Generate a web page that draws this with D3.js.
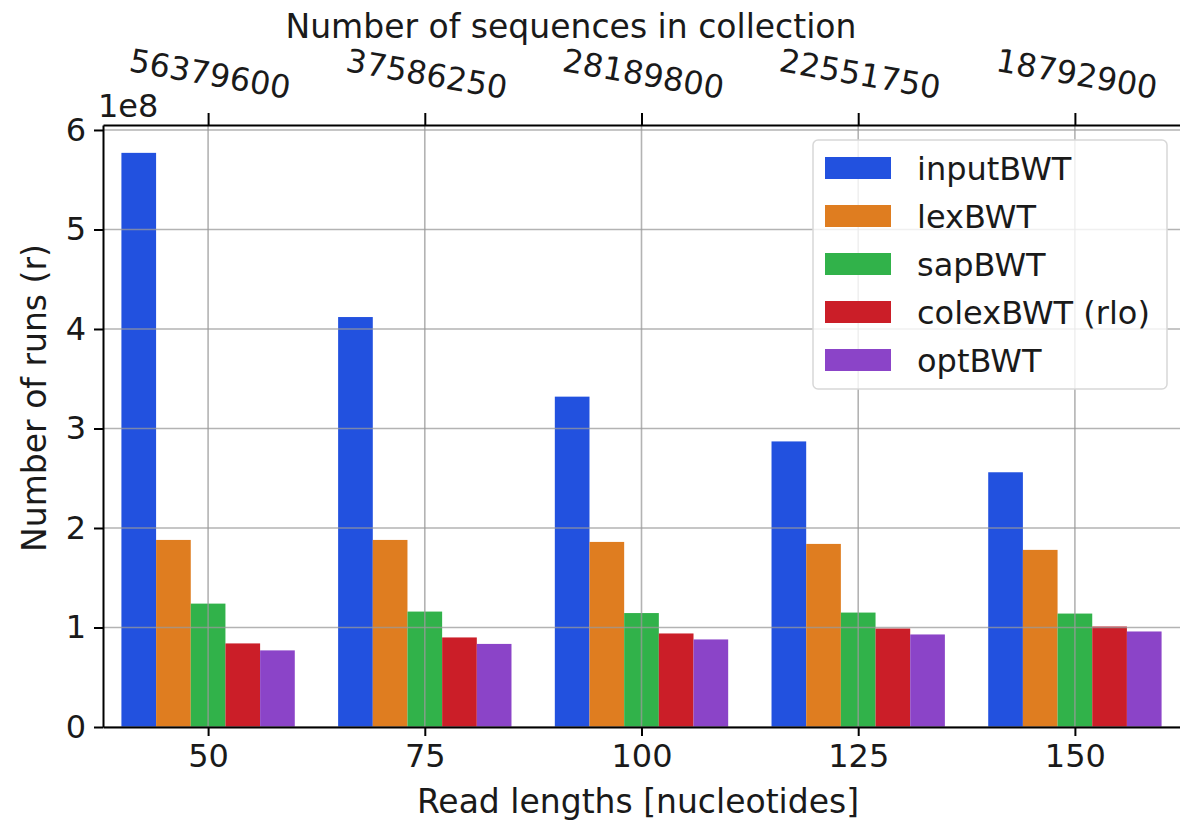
<!DOCTYPE html>
<html>
<head>
<meta charset="utf-8">
<script src="https://cdn.jsdelivr.net/npm/d3@7"></script>
<style>
  html, body { margin: 0; background: #fff; overflow: hidden; }
  svg { display: block; font-family: "DejaVu Sans", sans-serif; }
</style>
</head>
<body>
<script>
// données
const readLengths = [50, 75, 100, 125, 150]
const numSequences = ['56379600', '37586250', '28189800', '22551750', '18792900']
const seriesNames = ['inputBWT', 'lexBWT', 'sapBWT', 'colexBWT (rlo)', 'optBWT']
const inputBWT = [5.77e8, 4.12e8, 3.32e8, 2.87e8, 2.56e8]
const lexBWT = [1.88e8, 1.88e8, 1.86e8, 1.84e8, 1.78e8]
const sapBWT = [1.24e8, 1.16e8, 1.145e8, 1.15e8, 1.14e8]
const colexBWT = [0.84e8, 0.90e8, 0.94e8, 0.99e8, 1.01e8]
const optBWT = [0.77e8, 0.835e8, 0.88e8, 0.93e8, 0.96e8]
const yTicks = [0, 1e8, 2e8, 3e8, 4e8, 5e8, 6e8]
const colors = ['#2251df', '#df7d20', '#31b24a', '#cb1e28', '#8b44c8']

const allSeries = [inputBWT, lexBWT, sapBWT, colexBWT, optBWT]

const width = 1180
const height = 825
const plot = { left: 103, right: 1180, top: 125, bottom: 727 }
const barW = 0.16

const svg = d3.select('body').append('svg')
    .attr('width', width)
    .attr('height', height)

// échelles
const x = d3.scaleLinear()
    .domain([-0.485, readLengths.length - 1 + 0.485])
    .range([plot.left, plot.right])
const y = d3.scaleLinear()
    .domain([0, 6.05e8])
    .range([plot.bottom, plot.top])

// barres
allSeries.forEach((vals, s) => {
    svg.append('g')
        .selectAll('rect')
        .data(vals)
        .enter()
        .append('rect')
        .attr('x', (d, i) => x(i + (s - 2.5) * barW))
        .attr('y', d => y(d))
        .attr('width', x(barW) - x(0))
        .attr('height', d => y(0) - y(d))
        .attr('fill', colors[s])
})

// grille (au-dessus des barres comme dans matplotlib)
const grid = svg.append('g').attr('stroke', '#999').attr('stroke-opacity', 0.75).attr('stroke-width', 1.6)
grid.selectAll('.gy')
    .data(yTicks)
    .enter().append('line')
    .attr('x1', plot.left).attr('x2', plot.right)
    .attr('y1', d => y(d)).attr('y2', d => y(d))
grid.selectAll('.gx')
    .data(readLengths)
    .enter().append('line')
    .attr('x1', (d, i) => x(i)).attr('x2', (d, i) => x(i))
    .attr('y1', plot.top).attr('y2', plot.bottom)

// axes
const axisLeft = svg.append('g')
    .attr('transform', `translate(${plot.left},0)`)
    .call(d3.axisLeft(y).tickValues(yTicks).tickFormat(d => d / 1e8).tickSize(9).tickSizeOuter(0).tickPadding(8))
const axisBottom = svg.append('g')
    .attr('transform', `translate(0,${plot.bottom})`)
    .call(d3.axisBottom(x).tickValues(d3.range(readLengths.length)).tickFormat(i => readLengths[i]).tickSize(9).tickSizeOuter(0).tickPadding(8))
const axisTop = svg.append('g')
    .attr('transform', `translate(0,${plot.top})`)
    .call(d3.axisTop(x).tickValues(d3.range(readLengths.length)).tickFormat('').tickSize(12).tickSizeOuter(0))

;[axisLeft, axisBottom, axisTop].forEach(a => {
    a.selectAll('path.domain').attr('stroke', '#000').attr('stroke-width', 2)
    a.selectAll('.tick line').attr('stroke', '#000').attr('stroke-width', 2)
    a.selectAll('.tick text').attr('font-size', 32).attr('fill', '#1a1a1a').attr('font-family', 'DejaVu Sans')
})

// étiquettes du haut, légèrement tournées
svg.append('g')
    .selectAll('text')
    .data(numSequences)
    .enter().append('text')
    .attr('transform', (d, i) => `translate(${x(i)},${85}) rotate(10)`)
    .attr('text-anchor', 'middle')
    .attr('font-size', 32)
    .attr('fill', '#1a1a1a')
    .text(d => d)

svg.append('text')
    .attr('x', 98).attr('y', 117)
    .attr('font-size', 32).attr('fill', '#1a1a1a')
    .text('1e8')

// titres des axes
svg.append('text')
    .attr('x', 571).attr('y', 38)
    .attr('text-anchor', 'middle').attr('font-size', 33).attr('fill', '#1a1a1a')
    .text('Number of sequences in collection')
svg.append('text')
    .attr('x', 638).attr('y', 813)
    .attr('text-anchor', 'middle').attr('font-size', 33).attr('fill', '#1a1a1a')
    .text('Read lengths [nucleotides]')
svg.append('text')
    .attr('transform', 'translate(46,398) rotate(-90)')
    .attr('text-anchor', 'middle').attr('font-size', 33).attr('fill', '#1a1a1a')
    .text('Number of runs (r)')

// légende
const legend = svg.append('g').attr('transform', 'translate(813,140)')
legend.append('rect')
    .attr('width', 354).attr('height', 249)
    .attr('rx', 5)
    .attr('fill', '#fff').attr('fill-opacity', 0.8)
    .attr('stroke', '#d8d8d8').attr('stroke-width', 1.5)
seriesNames.forEach((name, s) => {
    const row = legend.append('g').attr('transform', `translate(0,${28 + s * 48})`)
    row.append('rect')
        .attr('x', 12).attr('y', -11)
        .attr('width', 66).attr('height', 22)
        .attr('fill', colors[s])
    row.append('text')
        .attr('x', 104).attr('y', 12)
        .attr('font-size', 32).attr('fill', '#1a1a1a')
        .text(name)
})
</script>
</body>
</html>
